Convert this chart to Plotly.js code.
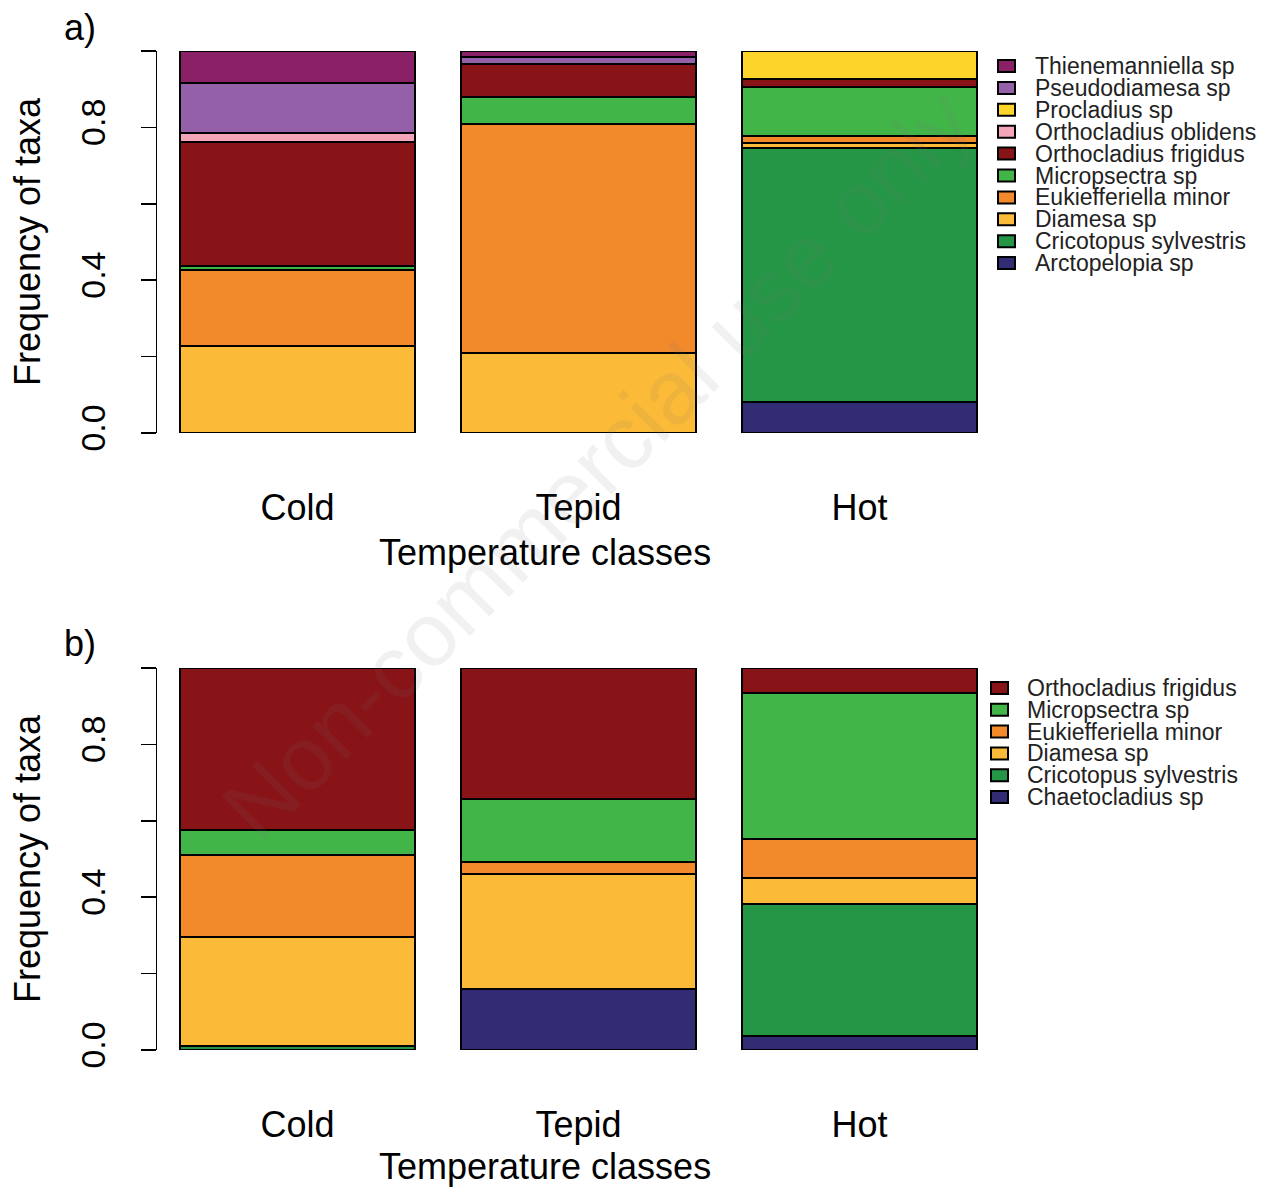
<!DOCTYPE html>
<html>
<head>
<meta charset="utf-8">
<script src="https://cdn.plot.ly/plotly-3.0.1.min.js"></script>
<style>html,body{margin:0;padding:0;background:#fff;}#chart{width:1285px;height:1189px;}</style>
</head>
<body>
<div id="chart"></div>
<script>
// ---------- data ----------
const classes = ['Cold', 'Tepid', 'Hot'];

// Panel a) – stacking order bottom to top
const taxaA = ['Arctopelopia sp', 'Cricotopus sylvestris', 'Diamesa sp', 'Eukiefferiella minor',
  'Micropsectra sp', 'Orthocladius frigidus', 'Orthocladius oblidens', 'Procladius sp',
  'Pseudodiamesa sp', 'Thienemanniella sp'];
const arctopelopiaA   = [0.000, 0.000, 0.082];
const cricotopusA     = [0.000, 0.000, 0.665];
const diamesaA        = [0.228, 0.209, 0.013];
const eukiefferiellaA = [0.199, 0.600, 0.017];
const micropsectraA   = [0.010, 0.071, 0.128];
const oFrigidusA      = [0.324, 0.086, 0.021];
const oOblidensA      = [0.024, 0.000, 0.000];
const procladiusA     = [0.000, 0.000, 0.074];
const pseudodiamesaA  = [0.132, 0.019, 0.000];
const thienemanA      = [0.083, 0.015, 0.000];
const valuesA = [arctopelopiaA, cricotopusA, diamesaA, eukiefferiellaA, micropsectraA,
  oFrigidusA, oOblidensA, procladiusA, pseudodiamesaA, thienemanA];
const colorsA = ['#312C74', '#259646', '#FBBA37', '#F28A2B', '#42B549',
  '#881418', '#F4A6B8', '#FDD52A', '#9460A8', '#8A2166'];

// Panel b)
const taxaB = ['Chaetocladius sp', 'Cricotopus sylvestris', 'Diamesa sp', 'Eukiefferiella minor',
  'Micropsectra sp', 'Orthocladius frigidus'];
const chaetocladiusB  = [0.000, 0.159, 0.037];
const cricotopusB     = [0.011, 0.000, 0.345];
const diamesaB        = [0.286, 0.301, 0.067];
const eukiefferiellaB = [0.213, 0.031, 0.103];
const micropsectraB   = [0.066, 0.165, 0.382];
const oFrigidusB      = [0.424, 0.344, 0.066];
const valuesB = [chaetocladiusB, cricotopusB, diamesaB, eukiefferiellaB, micropsectraB, oFrigidusB];
const colorsB = ['#312C74', '#259646', '#FBBA37', '#F28A2B', '#42B549', '#881418'];

const yTickVals = [0, 0.2, 0.4, 0.6, 0.8, 1.0];
const yTickText = ['0.0', '', '0.4', '', '0.8', ''];

// ---------- helpers ----------
const W = 1285, H = 1189;
const px = x => x / W;
const py = y => 1 - y / H;
const FONT = 'Liberation Sans, Arial, sans-serif';

const traces = [];
taxaA.forEach((name, i) => traces.push({
  type: 'bar', name: name, x: classes, y: valuesA[i], xaxis: 'x', yaxis: 'y',
  marker: {color: colorsA[i], line: {color: '#000', width: 2}}
}));
taxaB.forEach((name, i) => traces.push({
  type: 'bar', name: name, x: classes, y: valuesB[i], xaxis: 'x2', yaxis: 'y2',
  marker: {color: colorsB[i], line: {color: '#000', width: 2}}
}));

// legend built as shapes + annotations (top entry = last stacked)
const shapes = [];
const annotations = [];
function addLegend(taxa, colors, boxX0, boxX1, textX, y0, dy) {
  const n = taxa.length;
  for (let k = 0; k < n; k++) {
    const idx = n - 1 - k;
    const yc = y0 + k * dy;
    shapes.push({type: 'rect', xref: 'paper', yref: 'paper',
      x0: px(boxX0), x1: px(boxX1), y0: py(yc + 6), y1: py(yc - 6),
      fillcolor: colors[idx], line: {color: '#000', width: 2}});
    annotations.push({xref: 'paper', yref: 'paper', x: px(textX), y: py(yc),
      xanchor: 'left', yanchor: 'middle', showarrow: false, text: taxa[idx],
      font: {family: FONT, size: 23, color: '#222'}});
  }
}
addLegend(taxaA, colorsA, 998, 1015, 1033, 66, 21.9);
addLegend(taxaB, colorsB, 991, 1008, 1025, 688, 21.8);

// panel letters
annotations.push({xref: 'paper', yref: 'paper', x: px(80), y: py(27), xanchor: 'center', yanchor: 'middle',
  showarrow: false, text: 'a)', font: {family: FONT, size: 36, color: '#000'}});
annotations.push({xref: 'paper', yref: 'paper', x: px(80), y: py(643), xanchor: 'center', yanchor: 'middle',
  showarrow: false, text: 'b)', font: {family: FONT, size: 36, color: '#000'}});
// x-axis titles
annotations.push({xref: 'paper', yref: 'paper', x: px(545), y: py(553), xanchor: 'center', yanchor: 'middle',
  showarrow: false, text: 'Temperature classes', font: {family: FONT, size: 36, color: '#000'}});
annotations.push({xref: 'paper', yref: 'paper', x: px(545), y: py(1166), xanchor: 'center', yanchor: 'middle',
  showarrow: false, text: 'Temperature classes', font: {family: FONT, size: 36, color: '#000'}});
// watermark
annotations.push({xref: 'paper', yref: 'paper', x: px(597), y: py(465), xanchor: 'center', yanchor: 'middle',
  showarrow: false, text: 'Non-commercial use only', textangle: -45,
  font: {family: FONT, size: 90, color: 'rgba(120,120,120,0.10)'}});

const xCommon = {
  type: 'category', range: [-0.5, 2.5], domain: [px(157), px(1000)],
  showline: false, showgrid: false, zeroline: false, ticks: '',
  tickfont: {family: FONT, size: 36, color: '#000'}, ticklabelstandoff: 50, fixedrange: true
};
const yCommon = {
  range: [0, 1], showline: true, linecolor: '#000', linewidth: 1.5,
  showgrid: false, zeroline: false, ticks: 'outside', ticklen: 15, tickwidth: 1.5, tickcolor: '#000',
  tickvals: yTickVals, ticktext: yTickText, tickangle: -90,
  tickfont: {family: FONT, size: 34, color: '#000'}, ticklabelstandoff: 22,
  title: {text: 'Frequency of taxa', font: {family: FONT, size: 36, color: '#000'}, standoff: 22}
};

const layout = {
  width: W, height: H, margin: {l: 0, r: 0, t: 0, b: 0},
  paper_bgcolor: '#fff', plot_bgcolor: '#fff',
  barmode: 'stack', bargap: 0.1667, showlegend: false,
  xaxis: Object.assign({}, xCommon, {anchor: 'y'}),
  yaxis: Object.assign({}, yCommon, {anchor: 'x', domain: [py(433), py(51)]}),
  xaxis2: Object.assign({}, xCommon, {anchor: 'y2'}),
  yaxis2: Object.assign({}, yCommon, {anchor: 'x2', domain: [py(1050), py(668)]}),
  shapes: shapes, annotations: annotations
};

Plotly.newPlot('chart', traces, layout, {displayModeBar: false, staticPlot: true});
</script>
</body>
</html>
